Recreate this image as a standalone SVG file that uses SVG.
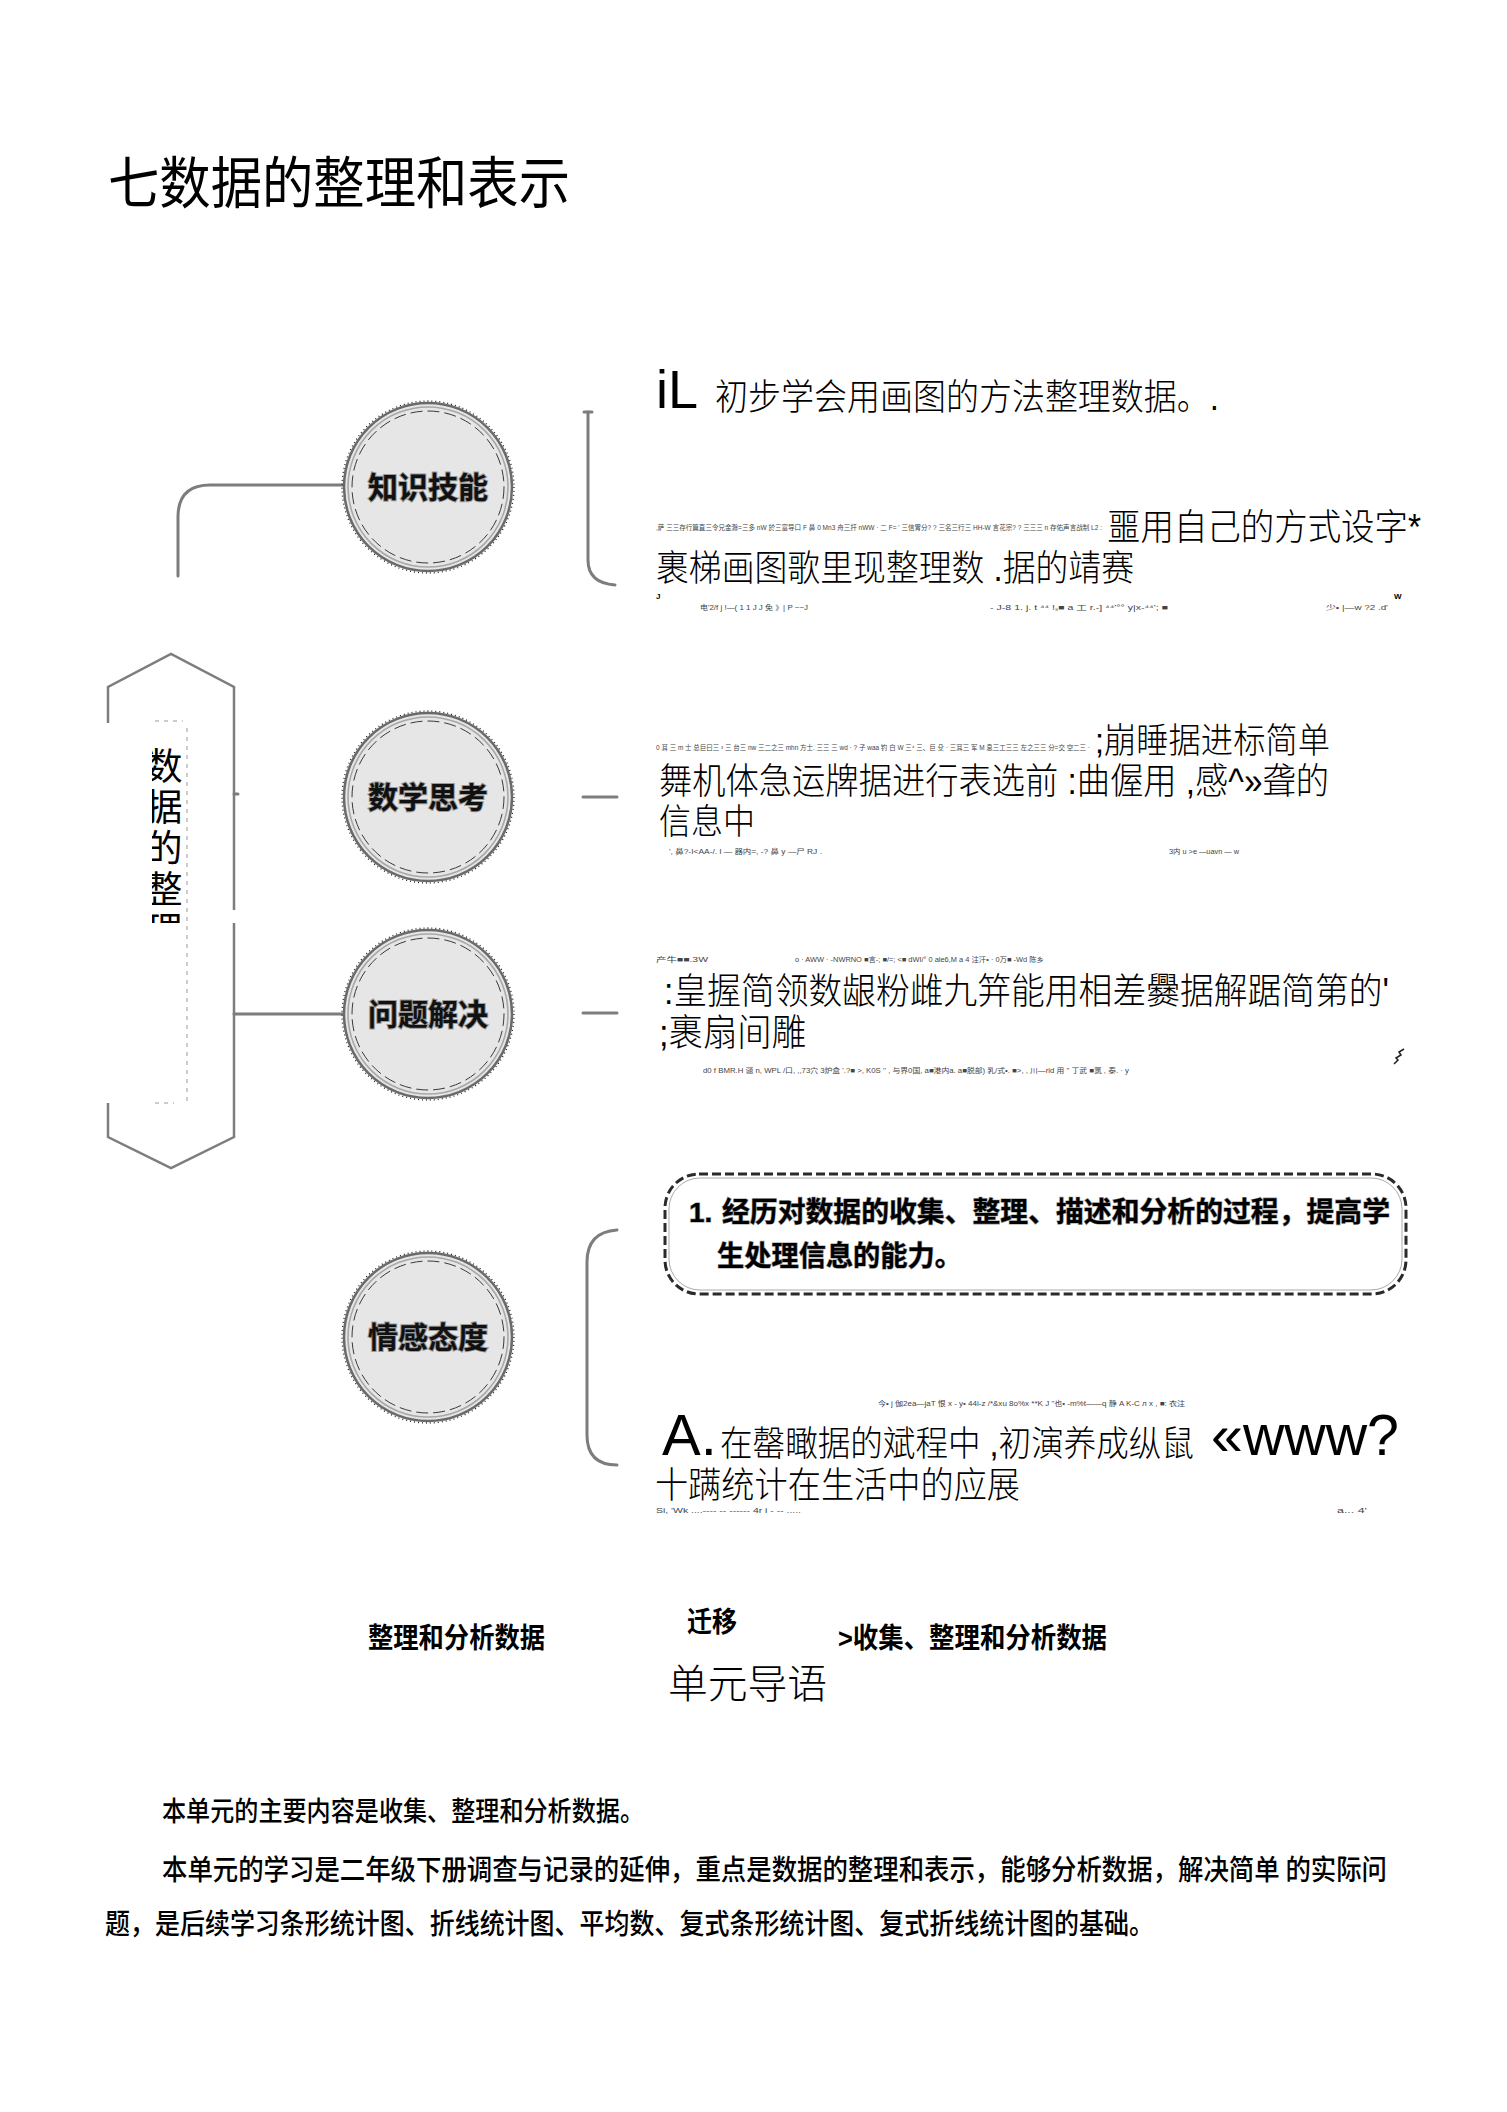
<svg xmlns="http://www.w3.org/2000/svg" width="1507" height="2112" viewBox="0 0 1507 2112">
<defs>
<style>
.cjk{font-family:"Noto Sans CJK SC","Noto Sans",sans-serif;fill:#000}
.cjl{font-family:"Liberation Sans","Noto Sans CJK SC",sans-serif;fill:#000}
.thin{font-weight:300}
.bold{font-weight:700}
.lat{font-family:"Liberation Sans",Arial,sans-serif;fill:#000}
.tiny{font-family:"Liberation Sans","Noto Sans CJK SC",sans-serif;font-size:7px;fill:#444}
.conn{fill:none;stroke:#7d7d7d;stroke-width:3;stroke-linecap:round}
.ring1{fill:#e6e6e6;stroke:#6a6a6a;stroke-width:2.5}
.ring2{fill:none;stroke:#a8a8a8;stroke-width:1.6}
.ring3{fill:none;stroke:#3a3a3a;stroke-width:1;stroke-dasharray:12 5}
.ring4{fill:none;stroke:#222;stroke-width:1.3;stroke-dasharray:1 3}
.ctext{font-family:"Noto Sans CJK SC",sans-serif;font-weight:700;font-size:30px;fill:#111;stroke:#9a9a9a;stroke-width:2;paint-order:stroke;text-anchor:middle}
.hex{fill:none;stroke:#7d7d7d;stroke-width:2.5}
.dash{fill:none;stroke:#999;stroke-width:1;stroke-dasharray:4 5}
.boxt{stroke:#999;stroke-width:1.2;paint-order:stroke}
</style>
<clipPath id="hexclip"><rect x="152" y="700" width="50" height="223"/></clipPath>
</defs>
<rect width="1507" height="2112" fill="#fff"/>

<text class="cjl" transform="translate(108 203) scale(1 1.1)" font-size="51" textLength="462" lengthAdjust="spacingAndGlyphs">七数据的整理和表示</text>

<g id="connectors">
<path class="conn" d="M343 485 H210 Q178 485 178 517 V576"/>
<path class="conn" d="M588 412 V560 Q588 583 615 585"/>
<path class="conn" d="M584 412 H592"/>
<path class="conn" d="M583 797 H617"/>
<path class="conn" d="M583 1013 H617"/>
<path class="conn" d="M617 1230 Q587 1232 587 1262 V1435 Q587 1465 617 1465"/>
<path class="conn" d="M234 1014 H344"/>
<path class="conn" d="M234 794 H238"/>
</g>

<g id="node-root">
<path class="hex" d="M108 723 V687 L171 654 L234 687 V910"/>
<path class="hex" d="M234 923 V1137 L171 1168 L108 1137 V1103"/>
<path class="dash" d="M155 721 H183 M187 728 V1103 M155 1103 H174"/>
<g clip-path="url(#hexclip)">
<text class="cjk" x="164" y="747" font-size="37" writing-mode="tb" letter-spacing="4">数据的整理</text>
</g>
</g>

<g id="node-zhishi">
<circle class="ring1" cx="428" cy="487" r="84"/>
<circle class="ring2" cx="428" cy="487" r="80"/>
<circle class="ring3" cx="428" cy="487" r="76"/>
<circle class="ring4" cx="428" cy="487" r="86"/>
<text class="ctext" x="428" y="498">知识技能</text>
</g>
<g id="node-shuxue">
<circle class="ring1" cx="428" cy="797" r="84"/>
<circle class="ring2" cx="428" cy="797" r="80"/>
<circle class="ring3" cx="428" cy="797" r="76"/>
<circle class="ring4" cx="428" cy="797" r="86"/>
<text class="ctext" x="428" y="808">数学思考</text>
</g>
<g id="node-wenti">
<circle class="ring1" cx="428" cy="1014" r="84"/>
<circle class="ring2" cx="428" cy="1014" r="80"/>
<circle class="ring3" cx="428" cy="1014" r="76"/>
<circle class="ring4" cx="428" cy="1014" r="86"/>
<text class="ctext" x="428" y="1025">问题解决</text>
</g>
<g id="node-qinggan">
<circle class="ring1" cx="428" cy="1337" r="84"/>
<circle class="ring2" cx="428" cy="1337" r="80"/>
<circle class="ring3" cx="428" cy="1337" r="76"/>
<circle class="ring4" cx="428" cy="1337" r="86"/>
<text class="ctext" x="428" y="1348">情感态度</text>
</g>

<g id="text-zhishi">
<text class="lat" x="656" y="408" font-size="54">iL</text>
<text class="cjl thin" transform="translate(715 410) scale(1 1.1)" font-size="33" textLength="504" lengthAdjust="spacingAndGlyphs">初步学会用画图的方法整理数据。.</text>
<text class="tiny" x="656" y="530" textLength="446" lengthAdjust="spacingAndGlyphs">,萨 三三存行篇直三令兄金滁=三多 nW 於三富导口 F 鼻 0 Mn3 舟三扞 nWW · 二 F= ' 三信胃分? ? 三名三行三 HH-W 言花宗? ? 三三三 n 存佑声言战制 L2 :</text>
<text class="cjl thin" transform="translate(1107 540) scale(1 1.1)" font-size="33" textLength="314" lengthAdjust="spacingAndGlyphs">噩用自己的方式设字*</text>
<text class="cjl thin" transform="translate(656 581) scale(1 1.1)" font-size="33" textLength="478" lengthAdjust="spacingAndGlyphs">裹梯画图歌里现整理数 .据的靖赛</text>
<text class="lat bold" x="656" y="599" font-size="8">J</text>
<text class="lat bold" x="1394" y="599" font-size="8">W</text>
<text class="tiny" x="700" y="610" textLength="108" lengthAdjust="spacingAndGlyphs">电'2/f  j !—( 1 1 J J 免 》| P ~~J</text>
<text class="tiny" x="990" y="610" textLength="178" lengthAdjust="spacingAndGlyphs">- J-8 1.  j.  t ⁴⁴ !ₛ■ a 工 r.-] ⁴⁴'°° y|x-⁴⁴'; ■</text>
<text class="tiny" x="1326" y="610" textLength="62" lengthAdjust="spacingAndGlyphs">少• |—w ?2 .d'</text>
</g>

<g id="text-shuxue">
<text class="tiny" x="656" y="750" textLength="434" lengthAdjust="spacingAndGlyphs">0 耳 三 m 士 总巨曰三 ³ 三 台三 nw 三二之三 mhn 方士. 三三 三 wd · ? 子 waa 钓 白 W 三⁴ 三、巨 殳 · 三耳三 军 M 息三工三三 左之三三 分=交 空二三 ·</text>
<text class="cjl thin" transform="translate(1095 753) scale(1 1.1)" font-size="32" textLength="235" lengthAdjust="spacingAndGlyphs">;崩睡据进标简单</text>
<text class="cjl thin" transform="translate(659 794) scale(1 1.1)" font-size="33" textLength="670" lengthAdjust="spacingAndGlyphs">舞机体急运牌据进行表选前 :曲偓用 ,感^»聋的</text>
<text class="cjl thin" transform="translate(659 834) scale(1 1.1)" font-size="32" textLength="96" lengthAdjust="spacingAndGlyphs">信息中</text>
<text class="tiny" x="669" y="854" textLength="153" lengthAdjust="spacingAndGlyphs">', 鼻?-I&lt;AA-/. l — 器内=, -? 鼻 y —尸 RJ .</text>
<text class="tiny" x="1169" y="854" textLength="70" lengthAdjust="spacingAndGlyphs">3内 u &gt;e —uavn — w</text>
</g>

<g id="text-wenti">
<text class="tiny" x="656" y="962" textLength="52" lengthAdjust="spacingAndGlyphs">产牛■■.3W</text>
<text class="tiny" x="795" y="962" textLength="249" lengthAdjust="spacingAndGlyphs">o · AWW · -NWRNO ■言-; ■/=; &lt;■ dWI/° 0 ale6,M a 4 注汗• · 0万■ -Wd 陈乡</text>
<text class="cjl thin" transform="translate(664 1004) scale(1 1.1)" font-size="33.5" textLength="725" lengthAdjust="spacingAndGlyphs">:皇握简领数龈粉雌九笄能用相差爨据解踞简第的'</text>
<text class="cjl thin" transform="translate(659 1046) scale(1 1.1)" font-size="34" textLength="147" lengthAdjust="spacingAndGlyphs">;裹扇间雕</text>
<text class="tiny" x="703" y="1073" textLength="426" lengthAdjust="spacingAndGlyphs">d0 f BMR.H 谴 n, WPL /口, ,,73穴 3炉盒 '.?■ &gt;, K0S '' , 与界0国, a■港内a. a■脱部) 乳/式•. ■&gt;, , 川—rid 用 " 丁武 ■氯 , 泰. · y</text>
<path d="M1394 1064 L1398 1060 L1396 1058 L1401 1055 L1399 1052 L1404 1049" fill="none" stroke="#222" stroke-width="1.5"/>
</g>

<g id="text-qinggan">
<rect x="665" y="1174" width="741" height="120" rx="34" fill="none" stroke="#2a2a2a" stroke-width="3" stroke-dasharray="9 4"/>
<rect x="669" y="1178" width="733" height="112" rx="31" fill="none" stroke="#aaa" stroke-width="1"/>
<text class="lat bold boxt" x="689" y="1222" font-size="28">1.</text>
<text class="cjk bold boxt" x="722" y="1222" font-size="28" textLength="668" lengthAdjust="spacingAndGlyphs">经历对数据的收集、整理、描述和分析的过程，提高学</text>
<text class="cjk bold boxt" x="717" y="1266" font-size="28" textLength="245" lengthAdjust="spacingAndGlyphs">生处理信息的能力。</text>
<text class="tiny" x="878" y="1406" textLength="307" lengthAdjust="spacingAndGlyphs">今• j 伽2ea—jaT 恨 x - y• 44i-z /*&amp;xu 8o%x **K J "也• -m%t——q 静 A K-C л x , ■: 衣注</text>
<text class="lat" x="662" y="1455" font-size="58">A.</text>
<text class="cjl thin" transform="translate(720 1456) scale(1 1.1)" font-size="32.5" textLength="474" lengthAdjust="spacingAndGlyphs">在罄瞰据的斌程中 ,初演养成纵鼠</text>
<text class="lat" x="1211" y="1455" font-size="58" textLength="188" lengthAdjust="spacingAndGlyphs">«www?</text>
<text class="cjl thin" transform="translate(655 1498) scale(1 1.1)" font-size="33" textLength="365" lengthAdjust="spacingAndGlyphs">十蹒统计在生活中的应展</text>
<text class="tiny" x="656" y="1513" textLength="145" lengthAdjust="spacingAndGlyphs">Si, 'Wk ....----  -- ------ 4r i -  -- .....</text>
<text class="tiny" x="1337" y="1513" textLength="30" lengthAdjust="spacingAndGlyphs">a... 4'</text>
</g>

<g id="transfer">
<text class="cjl bold" transform="translate(368 1648) scale(1 1.12)" font-size="25" textLength="177" lengthAdjust="spacingAndGlyphs">整理和分析数据</text>
<text class="cjl bold" transform="translate(687 1632) scale(1 1.12)" font-size="25" textLength="50" lengthAdjust="spacingAndGlyphs">迁移</text>
<text class="cjl bold" transform="translate(838 1648) scale(1 1.12)" font-size="25" textLength="269" lengthAdjust="spacingAndGlyphs">&gt;收集、整理和分析数据</text>
</g>

<text class="cjk thin" x="668" y="1698" font-size="40" textLength="159" lengthAdjust="spacingAndGlyphs">单元导语</text>

<g id="intro">
<text class="cjk" transform="translate(162 1821) scale(1 1.15)" font-size="24" font-weight="500" textLength="482" lengthAdjust="spacingAndGlyphs">本单元的主要内容是收集、整理和分析数据。</text>
<text class="cjk" transform="translate(162 1880) scale(1 1.15)" font-size="25" font-weight="500" textLength="1225" lengthAdjust="spacingAndGlyphs">本单元的学习是二年级下册调查与记录的延伸，重点是数据的整理和表示，能够分析数据，解决简单 的实际问</text>
<text class="cjk" transform="translate(105 1934) scale(1 1.15)" font-size="25" font-weight="500" textLength="1049" lengthAdjust="spacingAndGlyphs">题，是后续学习条形统计图、折线统计图、平均数、复式条形统计图、复式折线统计图的基础。</text>
</g>
</svg>
